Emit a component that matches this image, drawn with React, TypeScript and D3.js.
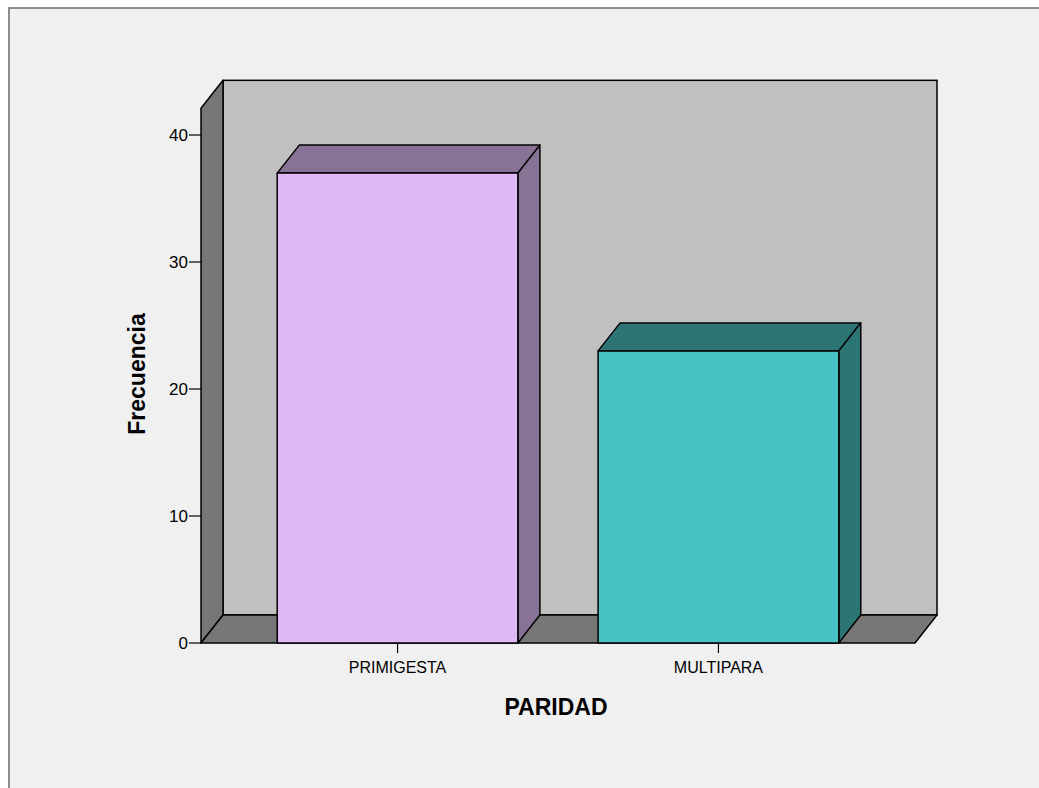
import React from "react";
import * as d3 from "d3";

// Frequency of parity categories
const categories = ["PRIMIGESTA", "MULTIPARA"];
const counts = [37, 23];
const yTicks = [0, 10, 20, 30, 40];
const frontColors = ["#dfb8f4", "#49c2c6"];
const sideColors = ["#887296", "#2d7475"];

const W = 1039;
const H = 788;

export default function App() {
  // 3D depth offset of the walls and bars
  const dx = 22;
  const dy = -28;

  const floorLeft = 201;
  const floorRight = 915;
  const y = d3.scaleLinear().domain([0, 40]).range([643, 135]);
  const yTop = y(42.1);
  const x = d3
    .scaleBand<string>()
    .domain(categories)
    .range([197, 919])
    .padding(0.25);

  const y0 = y(0);
  const font = "Arial, 'Liberation Sans', sans-serif";
  const pts = (arr: [number, number][]) => arr.map((p) => p.join(",")).join(" ");

  return (
    <svg
      width={W}
      height={H}
      style={{ position: "absolute", left: 0, top: 0 }}
      fontFamily={font}
    >
      <rect x={0} y={0} width={W} height={H} fill="#ffffff" />
      <rect x={9} y={8} width={W + 20} height={H + 20} fill="#f0f0f0" stroke="#8c8c8c" strokeWidth={2} />

      {/* back wall */}
      <rect
        x={floorLeft + dx}
        y={yTop + dy}
        width={floorRight - floorLeft}
        height={y0 - yTop}
        fill="#c0c0c0"
        stroke="#000"
        strokeWidth={1.5}
      />
      {/* left wall */}
      <polygon
        points={pts([
          [floorLeft, y0],
          [floorLeft, yTop],
          [floorLeft + dx, yTop + dy],
          [floorLeft + dx, y0 + dy],
        ])}
        fill="#777777"
        stroke="#000"
        strokeWidth={1.5}
        strokeLinejoin="round"
      />
      {/* floor */}
      <polygon
        points={pts([
          [floorLeft, y0],
          [floorRight, y0],
          [floorRight + dx, y0 + dy],
          [floorLeft + dx, y0 + dy],
        ])}
        fill="#777777"
        stroke="#000"
        strokeWidth={1.5}
        strokeLinejoin="round"
      />

      {/* bars */}
      {categories.map((c, i) => {
        const x0 = x(c)!;
        const x1 = x0 + x.bandwidth();
        const yt = y(counts[i]);
        return (
          <g key={c} stroke="#000" strokeWidth={1.5} strokeLinejoin="round">
            <polygon
              points={pts([
                [x0, yt],
                [x0 + dx, yt + dy],
                [x1 + dx, yt + dy],
                [x1, yt],
              ])}
              fill={sideColors[i]}
            />
            <polygon
              points={pts([
                [x1, yt],
                [x1 + dx, yt + dy],
                [x1 + dx, y0 + dy],
                [x1, y0],
              ])}
              fill={sideColors[i]}
            />
            <rect x={x0} y={yt} width={x1 - x0} height={y0 - yt} fill={frontColors[i]} />
          </g>
        );
      })}

      {/* y axis ticks */}
      {yTicks.map((t) => (
        <g key={t}>
          <line x1={floorLeft - 12} x2={floorLeft} y1={y(t)} y2={y(t)} stroke="#000" strokeWidth={1.2} />
          <text x={floorLeft - 13} y={y(t)} dy="0.36em" textAnchor="end" fontSize={17} fill="#000">
            {t}
          </text>
        </g>
      ))}

      {/* x axis ticks */}
      {categories.map((c) => {
        const cx = x(c)! + x.bandwidth() / 2;
        return (
          <g key={c}>
            <line x1={cx} x2={cx} y1={y0} y2={y0 + 10} stroke="#000" strokeWidth={1.2} />
            <text x={cx} y={673} textAnchor="middle" fontSize={16} fill="#000">
              {c}
            </text>
          </g>
        );
      })}

      <text x={556} y={715} textAnchor="middle" fontSize={23} fontWeight="bold" fill="#000">
        PARIDAD
      </text>
      <text
        transform="translate(145,374) rotate(-90)"
        textAnchor="middle"
        fontSize={23}
        fontWeight="bold"
        fill="#000"
      >
        Frecuencia
      </text>
    </svg>
  );
}
